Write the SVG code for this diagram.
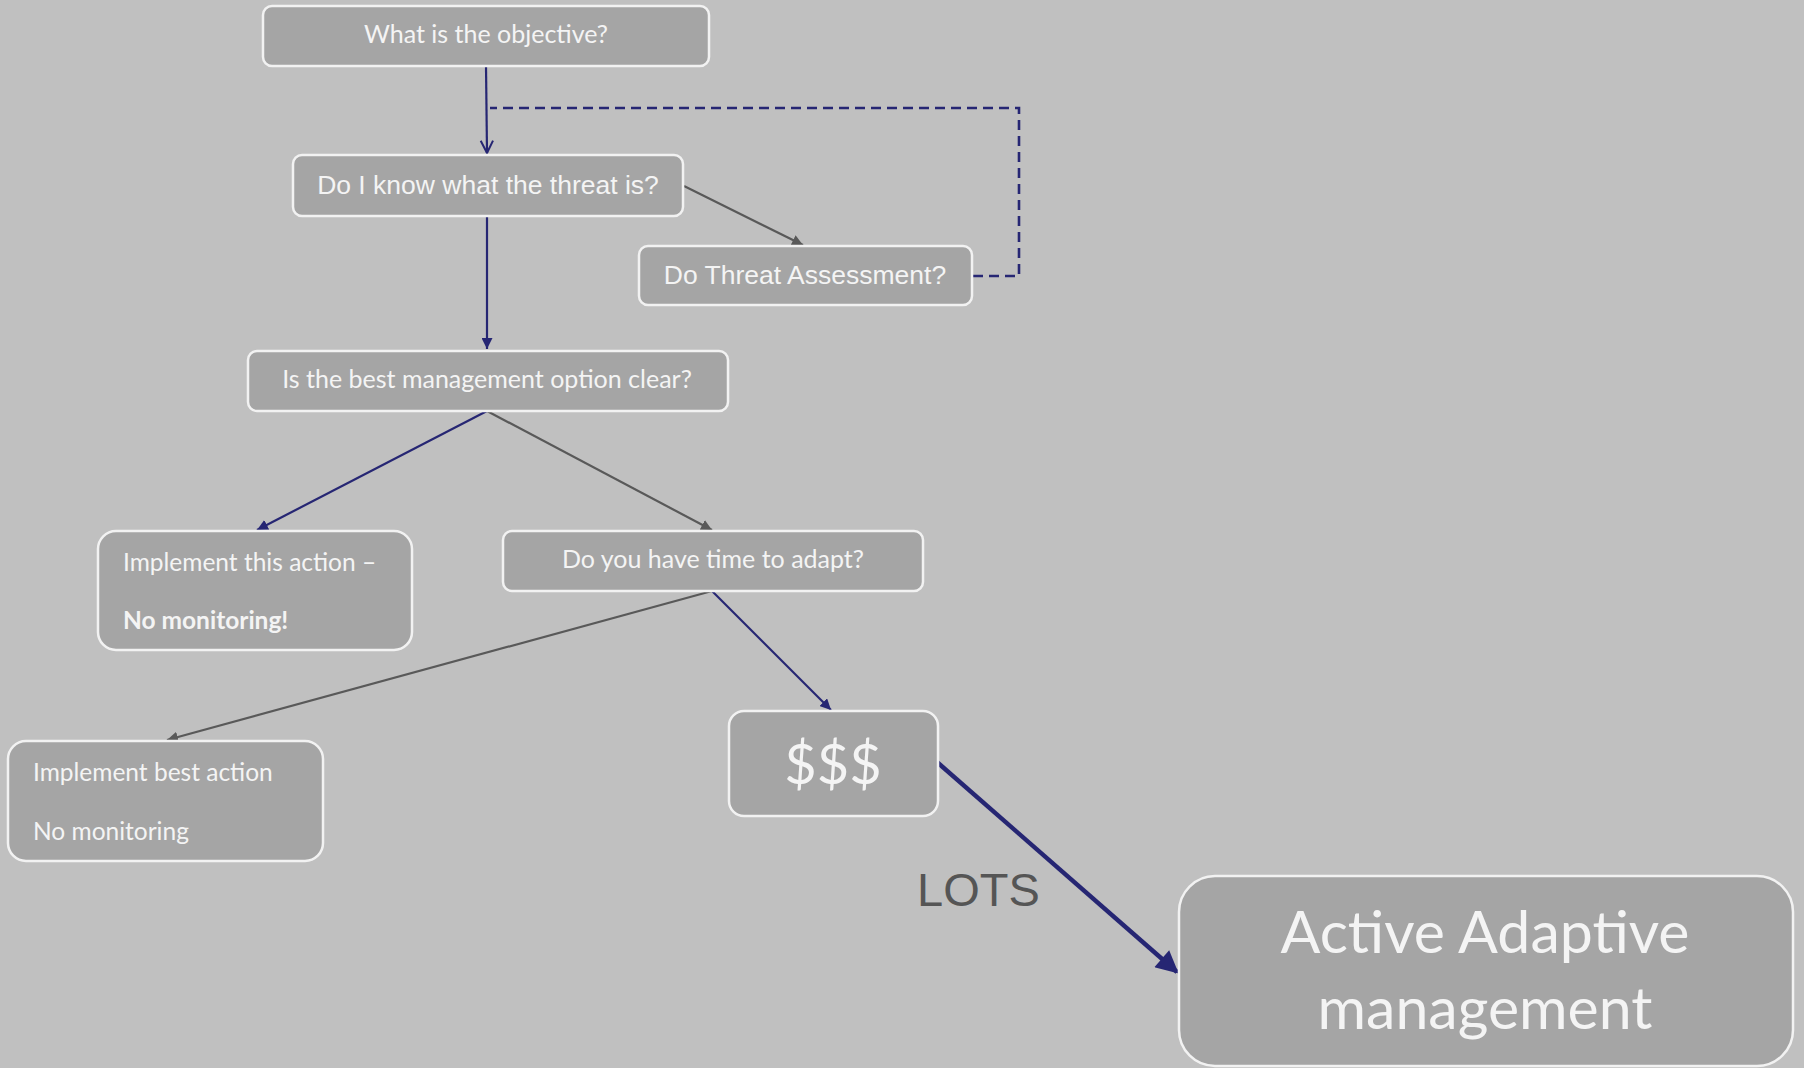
<svg xmlns="http://www.w3.org/2000/svg" width="1804" height="1068" viewBox="0 0 1804 1068">
  <style>
    .box { fill: #a5a5a5; stroke: #f2f2f2; stroke-width: 2.5; }
    .cal { font-family: Lato, "Open Sans", sans-serif; fill: #f4f4f4; }
    .ari { font-family: "Liberation Sans", Arial, sans-serif; fill: #f4f4f4; }
    .blue { stroke: #262673; stroke-width: 2.2; fill: none; }
    .grey { stroke: #595959; stroke-width: 2.2; fill: none; }
    .dash { stroke-width: 2.6; stroke-dasharray: 10 6; }
    .thick { stroke-width: 4.5; }
  </style>
  <defs>
    <marker id="tipBlue" viewBox="0 0 10 10" refX="10" refY="5" markerWidth="5" markerHeight="5" orient="auto" markerUnits="strokeWidth">
      <path d="M0,0 L10,5 L0,10 z" fill="#262673"/>
    </marker>
    <marker id="tipGrey" viewBox="0 0 10 10" refX="10" refY="5" markerWidth="5" markerHeight="5" orient="auto" markerUnits="strokeWidth">
      <path d="M0,0 L10,5 L0,10 z" fill="#595959"/>
    </marker>
    <marker id="openBlue" viewBox="0 0 10 10" refX="9" refY="5" markerWidth="7" markerHeight="7" orient="auto" markerUnits="strokeWidth">
      <path d="M1,1 L9,5 L1,9" fill="none" stroke="#262673" stroke-width="1.3"/>
    </marker>
    <marker id="bigBlue" viewBox="0 0 10 10" refX="9" refY="5" markerWidth="6" markerHeight="5" orient="auto" markerUnits="strokeWidth">
      <path d="M0,0 L10,5 L0,10 z" fill="#262673"/>
    </marker>
  </defs>

  <rect width="1804" height="1068" fill="#c0c0c0"/>

  <g id="connectors">
    <path class="blue" d="M486,66 L487,153" marker-end="url(#openBlue)"/>
    <path class="blue dash" d="M973,276 L1019,276 L1019,108 L490,108"/>
    <path class="grey" d="M684,186 L803,245" marker-end="url(#tipGrey)"/>
    <path class="blue" d="M487,217 L487,349" marker-end="url(#tipBlue)"/>
    <path class="blue" d="M487,411 L257,530" marker-end="url(#tipBlue)"/>
    <path class="grey" d="M487,411 L712,530" marker-end="url(#tipGrey)"/>
    <path class="grey" d="M712,591 L167,740" marker-end="url(#tipGrey)"/>
    <path class="blue" d="M712,591 L831,710" marker-end="url(#tipBlue)"/>
    <path class="blue thick" d="M937,762 L1177,972" marker-end="url(#bigBlue)"/>
  </g>

  <g id="objective">
    <rect class="box" x="263" y="6" width="446" height="60" rx="9"/>
    <text class="cal" x="486" y="43" font-size="25" text-anchor="middle">What is the objective?</text>
  </g>

  <g id="know-threat">
    <rect class="box" x="293" y="155" width="390" height="61" rx="9"/>
    <text class="ari" x="488" y="194" font-size="26.5" text-anchor="middle">Do I know what the threat is?</text>
  </g>

  <g id="threat-assessment">
    <rect class="box" x="639" y="246" width="333" height="59" rx="9"/>
    <text class="ari" x="805" y="284" font-size="26.5" text-anchor="middle">Do Threat Assessment?</text>
  </g>

  <g id="option-clear">
    <rect class="box" x="248" y="351" width="480" height="60" rx="9"/>
    <text class="cal" x="487" y="388" font-size="25" text-anchor="middle">Is the best management option clear?</text>
  </g>

  <g id="implement-this">
    <rect class="box" x="98" y="531" width="314" height="119" rx="18"/>
    <text class="cal" x="123" y="571" font-size="24.5">Implement this action –</text>
    <text class="cal" x="123" y="629" font-size="24.5" font-weight="bold">No monitoring!</text>
  </g>

  <g id="time-to-adapt">
    <rect class="box" x="503" y="531" width="420" height="60" rx="9"/>
    <text class="cal" x="713" y="568" font-size="25" text-anchor="middle">Do you have time to adapt?</text>
  </g>

  <g id="implement-best">
    <rect class="box" x="8" y="741" width="315" height="120" rx="18"/>
    <text class="cal" x="33" y="781" font-size="24.5">Implement best action</text>
    <text class="cal" x="33" y="840" font-size="24.5">No monitoring</text>
  </g>

  <g id="cost">
    <rect class="box" x="729" y="711" width="209" height="105" rx="15"/>
    <text class="cal" x="833" y="784" font-size="56" text-anchor="middle">$$$</text>
  </g>

  <text x="917" y="906" font-family="'Liberation Sans', Arial, sans-serif" font-size="47" fill="#555555">LOTS</text>

  <g id="active-adaptive">
    <rect class="box" x="1179" y="876" width="614" height="190" rx="36"/>
    <text class="cal" x="1485" y="953" font-size="59" text-anchor="middle">Active Adaptive</text>
    <text class="cal" x="1485" y="1029" font-size="59" text-anchor="middle">management</text>
  </g>
</svg>
